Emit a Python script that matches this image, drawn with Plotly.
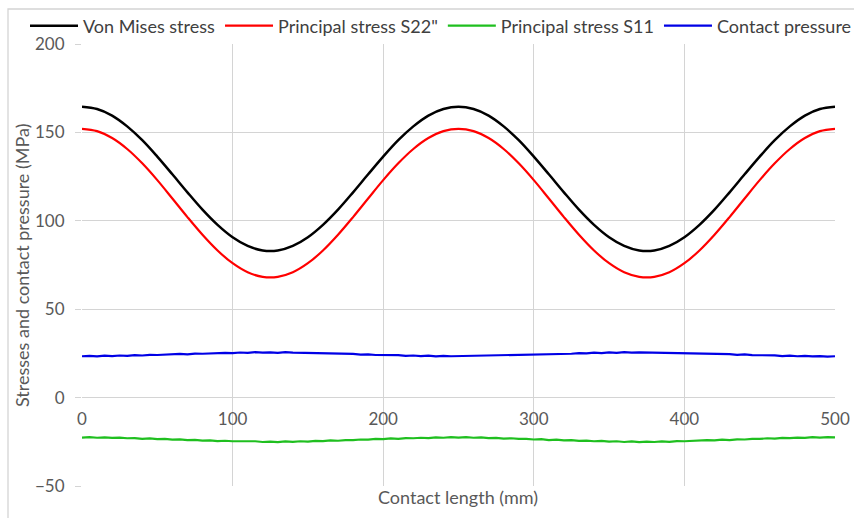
import plotly.graph_objects as go

# ---- data ----
x_smooth = list(range(0, 501, 10))
von_mises = [164.5, 163.2, 159.5, 153.4, 145.6, 136.3, 126.3, 116.1, 106.3, 97.7,
             90.7, 85.8, 83.2, 83.2, 85.8, 90.7, 97.7, 106.3, 116.1, 126.3,
             136.3, 145.6, 153.4, 159.5, 163.2, 164.5, 163.2, 159.5, 153.4, 145.6,
             136.3, 126.3, 116.1, 106.3, 97.7, 90.7, 85.8, 83.2, 83.2, 85.8,
             90.7, 97.7, 106.3, 116.1, 126.3, 136.3, 145.6, 153.4, 159.5, 163.2, 164.5]
s22 = [152.0, 150.7, 146.8, 140.6, 132.5, 123.0, 112.6, 102.1, 92.1, 83.2,
       76.0, 70.9, 68.3, 68.3, 70.9, 76.0, 83.2, 92.1, 102.1, 112.6,
       123.0, 132.5, 140.6, 146.8, 150.7, 152.0, 150.7, 146.8, 140.6, 132.5,
       123.0, 112.6, 102.1, 92.1, 83.2, 76.0, 70.9, 68.3, 68.3, 70.9,
       76.0, 83.2, 92.1, 102.1, 112.6, 123.0, 132.5, 140.6, 146.8, 150.7, 152.0]

x_noisy = list(range(0, 501, 5))
contact = [23.4, 23.6, 23.3, 23.7, 23.5, 23.8, 23.6, 24.0, 23.8, 24.2,
           24.1, 24.4, 24.3, 24.7, 24.5, 24.9, 24.8, 25.1, 25.0, 25.3,
           25.2, 25.5, 25.3, 25.7, 25.4, 25.6, 25.3, 25.7, 25.4, 25.3,
           25.5, 25.1, 25.2, 24.8, 25.0, 24.6, 24.7, 24.3, 24.5, 24.1,
           24.2, 23.9, 24.0, 23.6, 23.8, 23.5, 23.7, 23.3, 23.6, 23.4,
           23.5, 23.3, 23.7, 23.5, 23.8, 23.6, 24.0, 23.9, 24.2, 24.1,
           24.4, 24.3, 24.7, 24.6, 24.9, 24.8, 25.2, 25.0, 25.4, 25.2,
           25.6, 25.3, 25.7, 25.4, 25.6, 25.5, 25.7, 25.3, 25.5, 25.2,
           25.4, 25.0, 25.1, 24.7, 24.9, 24.5, 24.6, 24.2, 24.4, 24.0,
           24.1, 23.8, 23.9, 23.5, 23.7, 23.4, 23.6, 23.3, 23.5, 23.2, 23.4]
s11 = [-22.6, -22.3, -22.7, -22.5, -22.8, -22.6, -23.0, -22.9, -23.3, -23.1,
       -23.5, -23.4, -23.8, -23.6, -24.1, -23.9, -24.3, -24.2, -24.6, -24.4,
       -24.7, -24.6, -24.9, -24.7, -25.1, -24.9, -25.2, -24.8, -25.0, -24.7,
       -24.9, -24.5, -24.6, -24.2, -24.4, -24.0, -24.1, -23.7, -23.8, -23.4,
       -23.5, -23.1, -23.3, -22.9, -23.0, -22.7, -22.9, -22.5, -22.7, -22.4,
       -22.6, -22.4, -22.7, -22.5, -22.9, -22.8, -23.2, -23.0, -23.4, -23.3,
       -23.7, -23.5, -24.0, -23.8, -24.2, -24.1, -24.5, -24.3, -24.7, -24.5,
       -24.9, -24.7, -25.1, -24.8, -25.2, -24.9, -25.1, -24.8, -25.0, -24.6,
       -24.7, -24.4, -24.5, -24.1, -24.2, -23.8, -24.0, -23.6, -23.7, -23.3,
       -23.4, -23.0, -23.2, -22.8, -22.9, -22.6, -22.8, -22.4, -22.6, -22.3, -22.5]

series_names = ["Von Mises stress", "Principal stress S22\"", "Principal stress S11", "Contact pressure"]
x_ticks = [0, 100, 200, 300, 400, 500]
y_ticks = [-50, 0, 50, 100, 150, 200]

# ---- figure ----
FONT = "Lato"
TICK_COLOR = "#595959"
GRID = "#d4d4d4"

W, H = 854, 518
ML, MR, MT, MB = 82, 19, 44, 32
PW, PH = W - ML - MR, H - MT - MB

fig = go.Figure()
fig.add_trace(go.Scatter(x=x_smooth, y=von_mises, mode="lines", name=series_names[0],
                         line=dict(color="#000000", width=2.5, shape="spline")))
fig.add_trace(go.Scatter(x=x_smooth, y=s22, mode="lines", name=series_names[1],
                         line=dict(color="#ff0000", width=2.2, shape="spline")))
fig.add_trace(go.Scatter(x=x_noisy, y=s11, mode="lines", name=series_names[2],
                         line=dict(color="#1fbf1f", width=2.2)))
fig.add_trace(go.Scatter(x=x_noisy, y=contact, mode="lines", name=series_names[3],
                         line=dict(color="#0000e6", width=2.2)))

def px_x(p):
    return (p - ML) / PW

def px_y(p):
    return (H - MB - p) / PH

fig.update_layout(
    width=W, height=H,
    margin=dict(l=ML, r=MR, t=MT, b=MB, autoexpand=False),
    paper_bgcolor="white", plot_bgcolor="white",
    font=dict(family=FONT, size=17, color=TICK_COLOR),
    showlegend=True,
    legend=dict(orientation="h", x=px_x(25), xanchor="left", y=px_y(26), yanchor="middle",
                font=dict(family=FONT, size=18, color="#404040"),
                itemwidth=48, tracegroupgap=0, bgcolor="rgba(0,0,0,0)"),
    xaxis=dict(range=[0, 500], tickvals=x_ticks, showgrid=True, gridcolor=GRID, gridwidth=1.4,
               zeroline=False, showline=False, anchor="free", position=0.2,
               ticks="", tickfont=dict(family=FONT, size=17, color=TICK_COLOR),
               ticklabelstandoff=9),
    yaxis=dict(range=[-50, 200], tickvals=y_ticks, showgrid=True, gridcolor=GRID, gridwidth=1.4,
               zeroline=False, showline=False, ticks="outside", ticklen=6, tickcolor=GRID,
               tickwidth=1.4, tickfont=dict(family=FONT, size=17, color=TICK_COLOR),
               ticklabelstandoff=7),
    shapes=[dict(type="rect", xref="paper", yref="paper",
                 x0=px_x(8), x1=px_x(870), y0=px_y(530), y1=px_y(9),
                 line=dict(color=GRID, width=1.3), fillcolor="rgba(0,0,0,0)", layer="below")],
    annotations=[
        dict(text="Contact length (mm)", xref="paper", yref="paper", x=px_x(458), y=px_y(497),
             xanchor="center", yanchor="middle", showarrow=False,
             font=dict(family=FONT, size=18, color=TICK_COLOR)),
        dict(text="Stresses and contact pressure (MPa)", xref="paper", yref="paper",
             x=px_x(22), y=px_y(266), xanchor="center", yanchor="middle", textangle=-90,
             showarrow=False, font=dict(family=FONT, size=18, color=TICK_COLOR)),
    ],
)

fig.write_html("out.html")
